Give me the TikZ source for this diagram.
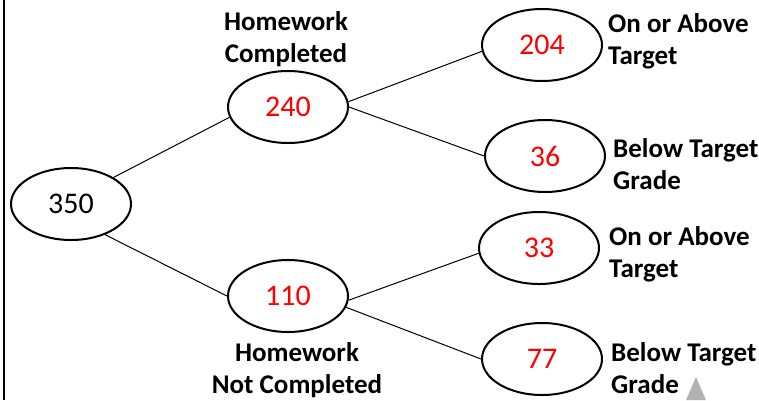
\documentclass[tikz,border=0pt]{standalone}
\usepackage{fontspec}
\setmainfont{Carlito}
\tikzset{count/.style = {draw, ellipse, line width = 2pt, minimum width = 120pt, minimum height = 72pt, text = red, font = \fontsize{30}{34}\selectfont}}
\tikzset{branch/.style = {align = left, inner sep = 0, font = \fontsize{27}{32}\selectfont\bfseries}}
\tikzset{edge/.style = {line width = 1pt}}
\usetikzlibrary{shapes.geometric}

\begin{document}
\begin{tikzpicture}[x = 1pt, y = -1pt]
    \useasboundingbox (0,0) rectangle (759,400);
    \draw [line width = 2.5pt] (4,0) -- (4,400);
	\node [count, text = black] (n350) at (71,204) {350};
	\node [count] (n240) at (288,107) {240};
	\node [count] (n110) at (288,296) {110};
	\node [count] (n204) at (542,45) {204};
	\node [count] (n36) at (545,156) {36};
	\node [count] (n33) at (539,248) {33};
	\node [count] (n77) at (542,359) {77};
	\node [branch, align = center] (hwdone) at (286,39) {Homework\\Completed};
	\node [branch, align = center] (hwnot) at (297,370) {Homework\\Not Completed};
	\node [branch, anchor = west] (l204) at (608,41) {On or Above\\Target};
	\node [branch, anchor = west] (l36) at (613,164) {Below Target\\Grade};
	\node [branch, anchor = west] (l33) at (609,254) {On or Above\\Target};
	\node [branch, anchor = west] (l77) at (611,368) {Below Target\\Grade};
    \draw [edge] (n350.32) -- (n240.190);
    \draw [edge] (n350.-42) -- (n110.west);
    \draw [edge] (n240.5) -- (n204.186);
    \draw [edge] (n240.east) -- (n36.west);
    \draw [edge] (n110.-4) -- (n33.185);
    \draw [edge] (n110.-11) -- (n77.west);
	\shade [left color = gray!60, middle color = black!75, right color = gray!60] (686,400) -- (696,377) -- (706,400) -- cycle;
  \end{tikzpicture}
\end{document}
